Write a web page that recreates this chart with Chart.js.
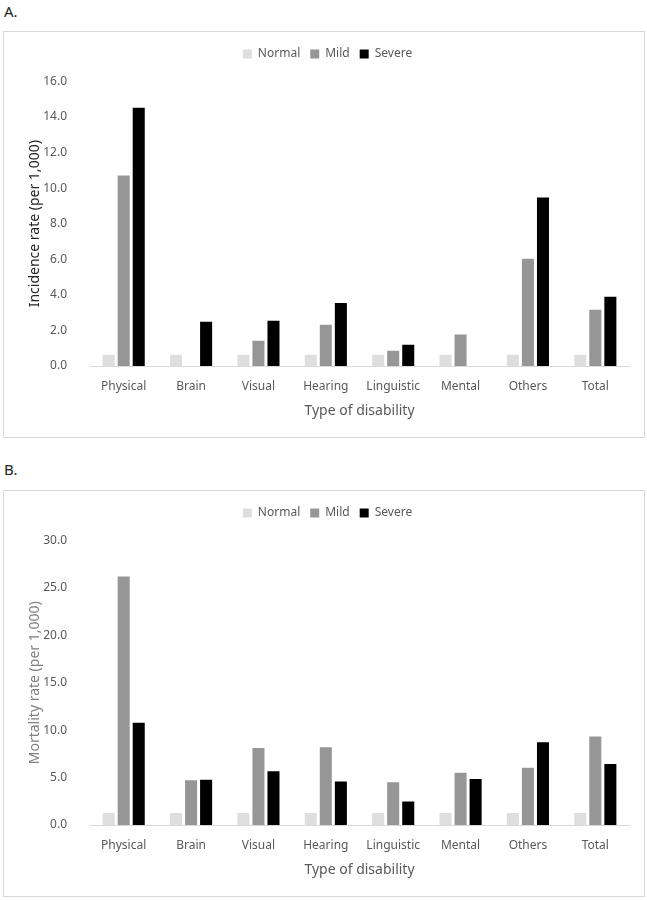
<!DOCTYPE html>
<html>
<head>
<meta charset="utf-8">
<script src="https://cdn.jsdelivr.net/npm/chart.js@4.4.0/dist/chart.umd.min.js"></script>
<style>
  body { margin: 0; background: #fff; font-family: "Noto Sans", sans-serif; }
  .page { position: relative; width: 647px; height: 900px; }
  .tag { position: absolute; left: 4px; font-size: 15px; color: #222; }
  .box { position: absolute; left: 3px; width: 640px; height: 405px; border: 1px solid #d9d9d9; }
  .box canvas { display: block; }
</style>
</head>
<body>
<div class="page">
  <div class="tag" style="top:1px">A.</div>
  <div class="box" style="top:31px"><canvas id="incChart" width="640" height="405"></canvas></div>
  <div class="tag" style="top:459px">B.</div>
  <div class="box" style="top:490px"><canvas id="morChart" width="640" height="405"></canvas></div>
</div>
<script>
// --- Data ---
const categories = ["Physical", "Brain", "Visual", "Hearing", "Linguistic", "Mental", "Others", "Total"];
const seriesNames = ["Normal", "Mild", "Severe"];

// A. Incidence rate (per 1,000)
const incNormal = [0.63, 0.63, 0.63, 0.63, 0.63, 0.63, 0.63, 0.63];
const incMild = [10.72, 0, 1.42, 2.32, 0.86, 1.77, 6.03, 3.17];
const incSevere = [14.52, 2.49, 2.54, 3.55, 1.20, 0, 9.48, 3.90];
const incTicks = [0, 2, 4, 6, 8, 10, 12, 14, 16];

// B. Mortality rate (per 1,000)
const morNormal = [1.27, 1.27, 1.27, 1.27, 1.27, 1.27, 1.27, 1.27];
const morMild = [26.2, 4.71, 8.13, 8.2, 4.5, 5.52, 6.05, 9.33];
const morSevere = [10.77, 4.78, 5.66, 4.6, 2.49, 4.86, 8.72, 6.44];
const morTicks = [0, 5, 10, 15, 20, 25, 30];

// --- Styles ---
const barColors = ["#dedede", "#969696", "#000000"];
const textGray = "#595959";
const FONT = "'Noto Sans', sans-serif";

function makeChart(canvasId, seriesData, ticks, yTitle, yTitleColor) {
  const ctx = document.getElementById(canvasId).getContext("2d");
  return new Chart(ctx, {
    type: "bar",
    data: {
      labels: categories,
      datasets: seriesNames.map((name, i) => ({
        label: name,
        data: seriesData[i],
        backgroundColor: barColors[i],
        borderWidth: 0,
        categoryPercentage: 0.67,
        barPercentage: 0.8
      }))
    },
    options: {
      responsive: false,
      animation: false,
      layout: { padding: { top: 6, right: 15, bottom: 0, left: 22 } },
      plugins: {
        legend: {
          display: true,
          position: "top",
          labels: {
            boxWidth: 9,
            boxHeight: 9,
            padding: 10,
            color: textGray,
            font: { family: FONT, size: 12 }
          }
        },
        // blank spacer between legend and plot area
        subtitle: {
          display: true,
          text: " ",
          weight: 500,
          fullSize: false,
          font: { size: 1 },
          padding: { top: 0, bottom: 10.3 }
        },
        tooltip: { enabled: false }
      },
      scales: {
        x: {
          grid: { display: false },
          border: { display: true, color: "#d9d9d9", width: 1 },
          ticks: { color: textGray, padding: 5, font: { family: FONT, size: 12 } },
          title: {
            display: true,
            text: "Type of disability",
            color: textGray,
            padding: { top: 0, bottom: 18 },
            font: { family: FONT, size: 14 }
          },
          afterFit: scale => { scale.height = 71; }
        },
        y: {
          min: ticks[0],
          max: ticks[ticks.length - 1],
          afterBuildTicks: scale => { scale.ticks = ticks.map(v => ({ value: v })); },
          grid: { display: false },
          border: { display: false },
          ticks: {
            color: textGray,
            padding: 15,
            font: { family: FONT, size: 12 },
            callback: v => Number(v).toFixed(1)
          },
          title: {
            display: true,
            text: yTitle,
            color: yTitleColor,
            padding: { top: 1, bottom: 0 },
            font: { family: FONT, size: 14 }
          },
          afterFit: scale => { scale.width = 64; }
        }
      }
    }
  });
}

makeChart("incChart", [incNormal, incMild, incSevere], incTicks, "Incidence rate (per 1,000)", "#262626");
makeChart("morChart", [morNormal, morMild, morSevere], morTicks, "Mortality rate (per 1,000)", "#7f7f7f");
</script>
</body>
</html>
